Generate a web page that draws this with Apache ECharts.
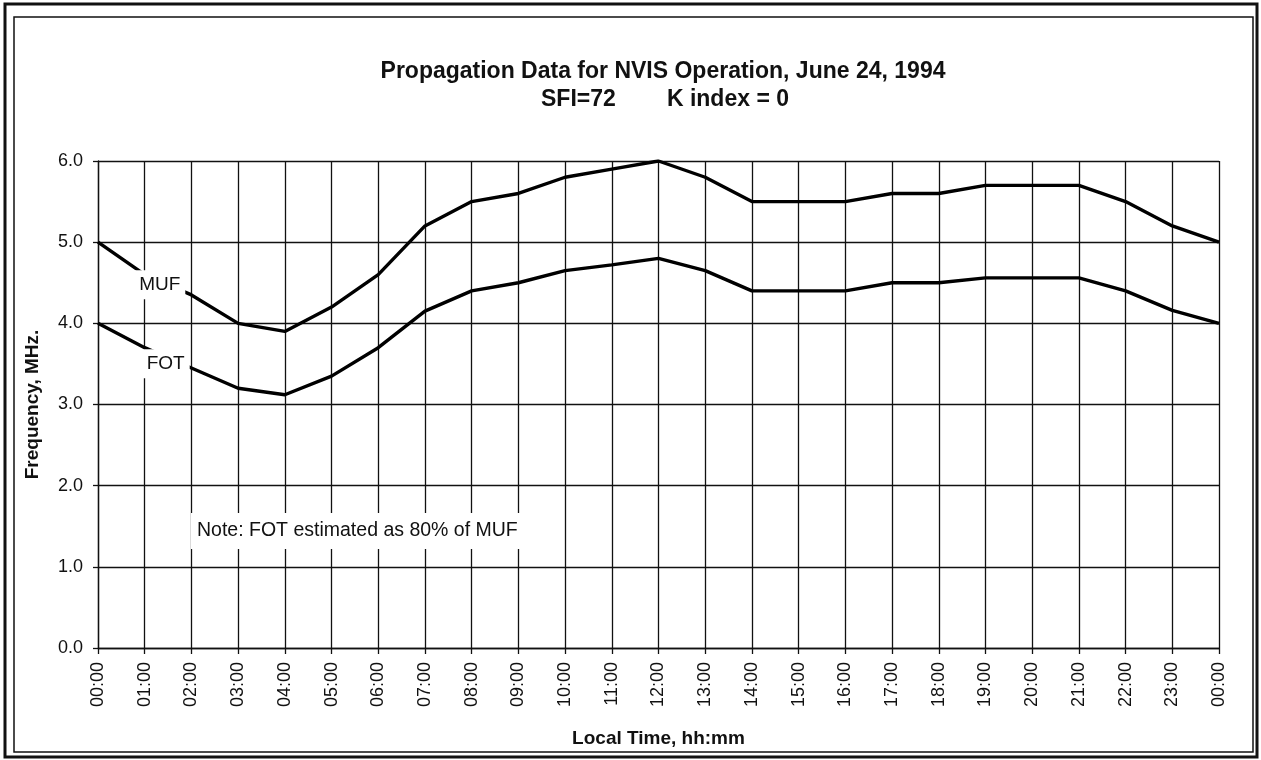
<!DOCTYPE html>
<html>
<head>
<meta charset="utf-8">
<script src="https://cdn.jsdelivr.net/npm/echarts@6/dist/echarts.min.js"></script>
<style>
  html, body { margin: 0; padding: 0; background: #fff; }
  #chart { width: 1261px; height: 760px; }
</style>
</head>
<body>
<div id="chart"></div>
<script>
// Hourly local times across one day (midnight to midnight)
const hours = ['00:00', '01:00', '02:00', '03:00', '04:00', '05:00', '06:00', '07:00',
  '08:00', '09:00', '10:00', '11:00', '12:00', '13:00', '14:00', '15:00', '16:00',
  '17:00', '18:00', '19:00', '20:00', '21:00', '22:00', '23:00', '00:00'];

// Maximum usable frequency, MHz
const muf = [5.0, 4.6, 4.35, 4.0, 3.9, 4.2, 4.6, 5.2, 5.5, 5.6, 5.8, 5.9, 6.0,
  5.8, 5.5, 5.5, 5.5, 5.6, 5.6, 5.7, 5.7, 5.7, 5.5, 5.2, 5.0];

// Frequency of optimum traffic, MHz
const fot = [4.0, 3.7, 3.45, 3.2, 3.12, 3.35, 3.7, 4.15, 4.4, 4.5, 4.65, 4.72, 4.8,
  4.65, 4.4, 4.4, 4.4, 4.5, 4.5, 4.56, 4.56, 4.56, 4.4, 4.16, 4.0];

// Frequency axis ticks
const freqTicks = [0, 1, 2, 3, 4, 5, 6];

const FONT = '"Liberation Sans", Arial, sans-serif';
const INK = '#111';

const chart = echarts.init(document.getElementById('chart'), null, { renderer: 'canvas' });

// In-line series name placed on a white box that breaks the curve
function seriesLabel(text, idx, values, offset) {
  return {
    symbol: 'rect',
    symbolSize: 0,
    silent: true,
    data: [{
      coord: [idx, values[idx]],
      label: {
        show: true,
        formatter: text,
        offset: offset,
        color: INK,
        fontFamily: FONT,
        fontSize: 19,
        backgroundColor: '#fff',
        padding: [5, 5, 5, 5]
      }
    }]
  };
}

chart.setOption({
  animation: false,
  backgroundColor: '#fff',
  title: [
    {
      text: 'Propagation Data for NVIS Operation, June 24, 1994',
      left: 658, top: 55, textAlign: 'center',
      textStyle: { fontFamily: FONT, fontWeight: 'bold', fontSize: 23, color: INK }
    },
    {
      text: 'SFI=72        K index = 0',
      left: 660, top: 83, textAlign: 'center',
      textStyle: { fontFamily: FONT, fontWeight: 'bold', fontSize: 23, color: INK }
    },
    {
      text: 'Note: FOT estimated as 80% of MUF',
      left: 191, top: 513,
      backgroundColor: '#fff',
      padding: [8, 6, 8, 6],
      textStyle: { fontFamily: FONT, fontWeight: 'normal', fontSize: 19.5, color: INK }
    }
  ],
  graphic: [
    {
      type: 'rect', silent: true, z: 100,
      shape: { x: 5, y: 4, width: 1252, height: 753 },
      style: { fill: 'none', stroke: INK, lineWidth: 3 }
    },
    {
      type: 'rect', silent: true, z: 100,
      shape: { x: 14, y: 17, width: 1239, height: 735 },
      style: { fill: 'none', stroke: INK, lineWidth: 1.5 }
    }
  ],
  grid: { left: 98, right: 42, top: 161, bottom: 112, containLabel: false },
  xAxis: {
    type: 'category',
    data: hours,
    boundaryGap: false,
    name: 'Local Time, hh:mm',
    nameLocation: 'middle',
    nameGap: 81,
    nameTextStyle: { fontFamily: FONT, fontWeight: 'bold', fontSize: 19, color: INK },
    axisLine: { lineStyle: { color: INK, width: 1.3 } },
    axisTick: { show: true, length: 6, lineStyle: { color: INK, width: 1.3 } },
    axisLabel: {
      rotate: 90, margin: 14, interval: 0,
      fontFamily: FONT, fontSize: 18, color: INK
    },
    splitLine: { show: true, lineStyle: { color: INK, width: 1.3 } }
  },
  yAxis: {
    type: 'value',
    min: freqTicks[0],
    max: freqTicks[freqTicks.length - 1],
    interval: 1,
    name: 'Frequency, MHz.',
    nameLocation: 'middle',
    nameGap: 56,
    nameRotate: 90,
    nameTextStyle: { fontFamily: FONT, fontWeight: 'bold', fontSize: 19, color: INK },
    axisLine: { show: true, lineStyle: { color: INK, width: 1.3 } },
    axisTick: { show: true, length: 5, lineStyle: { color: INK, width: 1.3 } },
    axisLabel: {
      margin: 15,
      fontFamily: FONT, fontSize: 18, color: INK,
      formatter: v => v.toFixed(1)
    },
    splitLine: { show: true, lineStyle: { color: INK, width: 1.3 } }
  },
  series: [
    {
      name: 'MUF',
      type: 'line',
      data: muf,
      showSymbol: false,
      lineStyle: { color: '#000', width: 3.4 },
      markPoint: seriesLabel('MUF', 1, muf, [15, 10])
    },
    {
      name: 'FOT',
      type: 'line',
      data: fot,
      showSymbol: false,
      lineStyle: { color: '#000', width: 3.4 },
      markPoint: seriesLabel('FOT', 1, fot, [21, 16])
    }
  ]
});
</script>
</body>
</html>
